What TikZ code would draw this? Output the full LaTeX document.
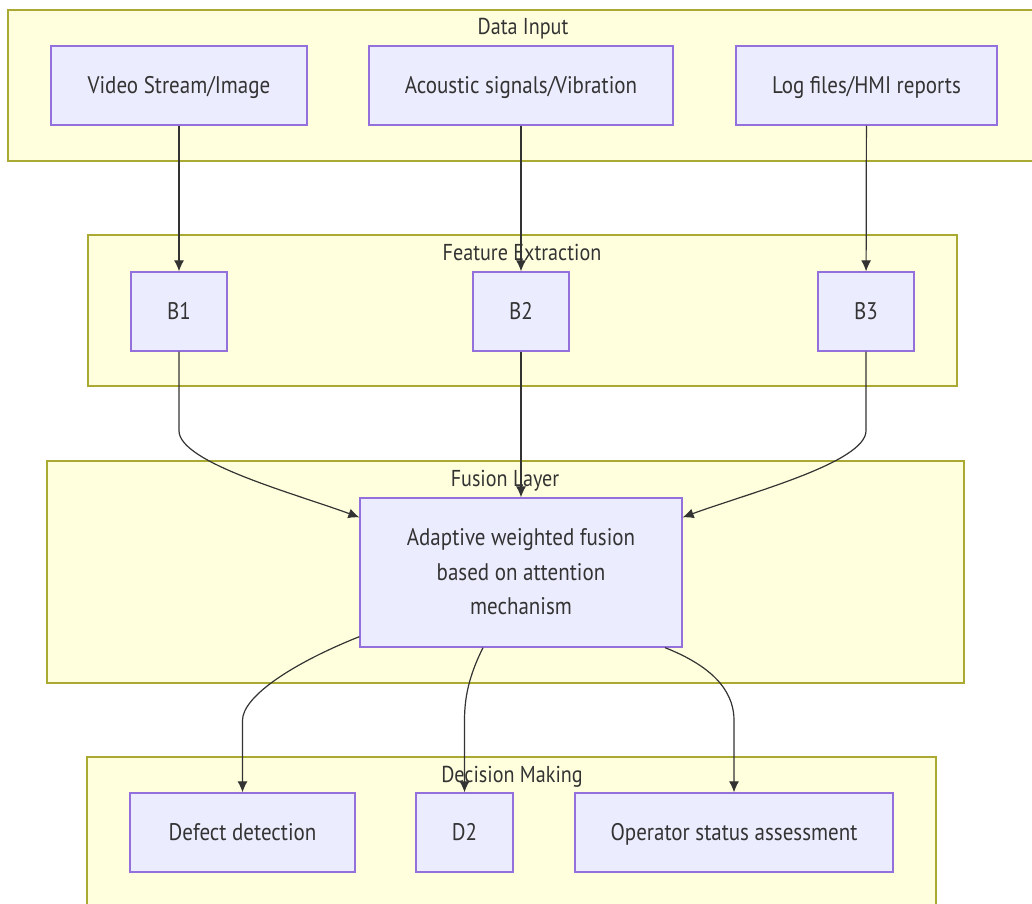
\documentclass[tikz,border=0pt]{standalone}
\usepackage{fontspec}
\setmainfont{PT Sans}[FakeStretch=0.875]
\usetikzlibrary{arrows.meta,calc}
\definecolor{grpfill}{HTML}{FFFFDE}
\definecolor{grpline}{HTML}{AAAA33}
\definecolor{boxfill}{HTML}{ECECFF}
\definecolor{boxline}{HTML}{9370DB}
\definecolor{ink}{HTML}{333333}
\tikzset{
  group/.style={draw=grpline, fill=grpfill, line width=1.3pt},
  grouptitle/.style={text=ink, font=\fontsize{23}{26}\selectfont, inner sep=0pt, anchor=base},
  box/.style={draw=boxline, fill=boxfill, line width=1.3pt, inner sep=0pt,
    text=ink, font=\fontsize{24}{27}\selectfont, align=center},
  line1/.style={text height=18pt, text depth=2.1pt},
  flow/.style={draw=ink, line width=1.2pt, -{Latex[length=11pt,width=10pt]}},
}
\begin{document}
\begin{tikzpicture}[x=1pt,y=-1pt]
\useasboundingbox (0,0) rectangle (1032,903);
\clip (0,0) rectangle (1032,903);
\fill[white] (0,0) rectangle (1032,903);

% subgraph frames
\draw[group] (8,10) rectangle (1038,161);
\draw[group] (88,235) rectangle (957,386);
\draw[group] (47,461) rectangle (964,683);
\draw[group] (87,757) rectangle (936,920);

\node[grouptitle] (tIn)  at (523,34)  {Data Input};
\node[grouptitle] (tFe)  at (522,260) {Feature Extraction};
\node[grouptitle] (tFu)  at (505,486) {Fusion Layer};
\node[grouptitle] (tDe)  at (512,782) {Decision Making};

% data sources
\node[box, line1, minimum width=256pt, minimum height=79pt] (A1) at (179,85.5) {Video Stream/Image};
\node[box, line1, minimum width=304pt, minimum height=79pt] (A2) at (521,85.5) {Acoustic signals/Vibration};
\node[box, line1, minimum width=261pt, minimum height=79pt] (A3) at (866.5,85.5) {Log files/HMI reports};

% feature extractors
\node[box, line1, minimum width=96pt, minimum height=79pt] (B1) at (179,311.5) {B1};
\node[box, line1, minimum width=96pt, minimum height=79pt] (B2) at (521,311.5) {B2};
\node[box, line1, minimum width=96pt, minimum height=79pt] (B3) at (866,311.5) {B3};

% fusion
\node[box, minimum width=322pt, minimum height=149pt,
      font=\fontsize{24}{34.5}\selectfont] (F) at (521,572.5)
  {Adaptive weighted fusion\\based on attention\\mechanism\rule[-2pt]{0pt}{0pt}};

% decisions
\node[box, line1, minimum width=225pt, minimum height=79pt] (D1) at (242.5,832.5) {Defect detection};
\node[box, line1, minimum width=97pt, minimum height=79pt] (D2) at (464.5,832.5) {D2};
\node[box, line1, minimum width=318pt, minimum height=79pt] (D3) at (734,832.5) {Operator status assessment};

% connectors
\draw[flow] (A1) -- (B1);
\draw[flow] (A2) -- (B2);
\draw[flow] (A3) -- (B3);

\draw[flow] (B1.south) -- ++(0,79) .. controls ++(0,32) and ($([yshift=-20pt]F.north west)+(-65,-24)$) .. ([yshift=-20pt]F.north west);
\draw[flow] (B2) -- (F);
\draw[flow] (B3.south) -- ++(0,79) .. controls ++(0,32) and ($([yshift=-20pt]F.north east)+(65,-24)$) .. ([yshift=-20pt]F.north east);

\coordinate (f1) at ([yshift=11pt]F.south west);
\coordinate (f2) at ([xshift=-38pt]F.south);
\coordinate (f3) at ([xshift=144pt]F.south);
\draw[flow] (f1) .. controls ($(f1)+(-70,28)$) and ($(D1.north)+(0,-95)$) .. ($(D1.north)+(0,-72)$) -- (D1.north);
\draw[flow] (f2) .. controls ($(f2)+(-14,28)$) and ($(D2.north)+(0,-95)$) .. ($(D2.north)+(0,-72)$) -- (D2.north);
\draw[flow] (f3) .. controls ($(f3)+(56,22)$) and ($(D3.north)+(0,-95)$) .. ($(D3.north)+(0,-72)$) -- (D3.north);
\end{tikzpicture}
\end{document}
